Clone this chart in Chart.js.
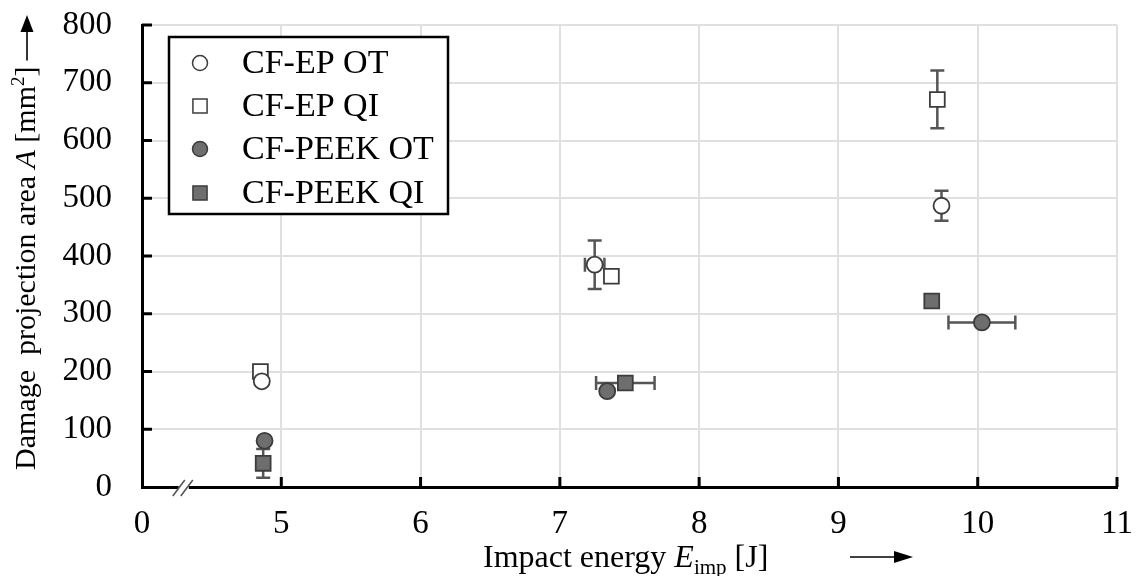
<!DOCTYPE html>
<html>
<head>
<meta charset="utf-8">
<script src="https://cdn.jsdelivr.net/npm/chart.js@4.4.1/dist/chart.umd.min.js"></script>
<style>
  html, body { margin: 0; padding: 0; background: #fff; }
  canvas { display: block; }
</style>
</head>
<body>
<canvas id="chart" width="1139" height="576"></canvas>
<script>
// Damage projection area vs. impact energy for four laminates (mean ± scatter)
const seriesLabels = ['CF-EP OT', 'CF-EP QI', 'CF-PEEK OT', 'CF-PEEK QI'];

const energyEpOt    = [4.86, 7.25, 9.74];
const areaEpOt      = [183, 385, 487];
const energyErrEpOt = [0, 0.07, 0];
const areaErrEpOt   = [0, 42, 26];

const energyEpQi    = [4.85, 7.37, 9.71];
const areaEpQi      = [200, 365, 671];
const energyErrEpQi = [0, 0, 0];
const areaErrEpQi   = [0, 0, 50];

const energyPeekOt    = [4.88, 7.34, 10.03];
const areaPeekOt      = [80, 166, 285];
const energyErrPeekOt = [0, 0, 0.24];
const areaErrPeekOt   = [0, 0, 0];

const energyPeekQi    = [4.87, 7.47, 9.67];
const areaPeekQi      = [41, 180, 322];
const energyErrPeekQi = [0, 0.21, 0];
const areaErrPeekQi   = [25, 0, 6];

// x axis is broken between 0 and 5: the first tick stands for the origin
const xTickValues = [4, 5, 6, 7, 8, 9, 10, 11];
const xTickLabels = ['0', '5', '6', '7', '8', '9', '10', '11'];
const yTickValues = [0, 100, 200, 300, 400, 500, 600, 700, 800];
const axisBreakAt = 4.3;

const SERIF = "'Liberation Serif', 'Times New Roman', serif";
const OPEN_FILL = '#ffffff';
const SOLID_FILL = '#6e6e6e';
const EDGE = '#3c3c3c';
const ERR_COLOR = '#555555';

function pts(xs, ys) { return xs.map((x, i) => ({ x: x, y: ys[i] })); }

function makeSet(label, xs, ys, ex, ey, style, fill, radius) {
  return {
    label: label,
    data: pts(xs, ys),
    errX: ex,
    errY: ey,
    pointStyle: style,
    pointRadius: radius,
    pointHoverRadius: radius,
    pointBackgroundColor: fill,
    pointBorderColor: EDGE,
    pointBorderWidth: 1.8,
    showLine: false
  };
}

const datasets = [
  makeSet(seriesLabels[0], energyEpOt, areaEpOt, energyErrEpOt, areaErrEpOt, 'circle', OPEN_FILL, 8),
  makeSet(seriesLabels[1], energyEpQi, areaEpQi, energyErrEpQi, areaErrEpQi, 'rect', OPEN_FILL, 10.5),
  makeSet(seriesLabels[2], energyPeekOt, areaPeekOt, energyErrPeekOt, areaErrPeekOt, 'circle', SOLID_FILL, 8),
  makeSet(seriesLabels[3], energyPeekQi, areaPeekQi, energyErrPeekQi, areaErrPeekQi, 'rect', SOLID_FILL, 10.5)
];

// error bars with caps, drawn beneath the markers
const errorBars = {
  id: 'errorBars',
  beforeDatasetsDraw(chart) {
    const ctx = chart.ctx, xs = chart.scales.x, ys = chart.scales.y;
    const cap = 7;
    ctx.save();
    ctx.strokeStyle = ERR_COLOR;
    ctx.lineWidth = 2.5;
    chart.data.datasets.forEach(ds => {
      ds.data.forEach((p, i) => {
        const px = xs.getPixelForValue(p.x), py = ys.getPixelForValue(p.y);
        const ex = ds.errX[i], ey = ds.errY[i];
        ctx.beginPath();
        if (ey > 0) {
          const t = ys.getPixelForValue(p.y + ey), b = ys.getPixelForValue(p.y - ey);
          ctx.moveTo(px, t); ctx.lineTo(px, b);
          ctx.moveTo(px - cap, t); ctx.lineTo(px + cap, t);
          ctx.moveTo(px - cap, b); ctx.lineTo(px + cap, b);
        }
        if (ex > 0) {
          const l = xs.getPixelForValue(p.x - ex), r = xs.getPixelForValue(p.x + ex);
          ctx.moveTo(l, py); ctx.lineTo(r, py);
          ctx.moveTo(l, py - cap); ctx.lineTo(l, py + cap);
          ctx.moveTo(r, py - cap); ctx.lineTo(r, py + cap);
        }
        ctx.stroke();
      });
    });
    ctx.restore();
  }
};

function drawRuns(ctx, runs, x, y) {
  runs.forEach(r => {
    ctx.font = r.font;
    ctx.fillText(r.text, x, y + (r.dy || 0));
    x += ctx.measureText(r.text).width;
  });
  return x;
}

// inner tick marks, axis break, axis titles and the boxed legend
const decorations = {
  id: 'decorations',
  afterDraw(chart) {
    const ctx = chart.ctx, xs = chart.scales.x, ys = chart.scales.y;
    const area = chart.chartArea;
    ctx.save();

    // ticks pointing into the plot
    ctx.strokeStyle = '#000';
    ctx.lineWidth = 3;
    ctx.beginPath();
    xTickValues.slice(1).forEach(v => {
      const px = xs.getPixelForValue(v);
      ctx.moveTo(px, area.bottom); ctx.lineTo(px, area.bottom - 10);
    });
    yTickValues.slice(1).forEach(v => {
      const py = ys.getPixelForValue(v);
      ctx.moveTo(area.left, py); ctx.lineTo(area.left + 10, py);
    });
    ctx.stroke();

    // axis break marks
    const bx = xs.getPixelForValue(axisBreakAt);
    ctx.fillStyle = '#fff';
    ctx.fillRect(bx - 5, area.bottom - 3, 10, 6);
    ctx.strokeStyle = '#555';
    ctx.lineWidth = 1.6;
    ctx.beginPath();
    ctx.moveTo(bx - 11, area.bottom + 9); ctx.lineTo(bx + 1, area.bottom - 7);
    ctx.moveTo(bx - 3, area.bottom + 9); ctx.lineTo(bx + 9, area.bottom - 7);
    ctx.stroke();

    ctx.fillStyle = '#000';
    ctx.strokeStyle = '#000';
    ctx.textBaseline = 'alphabetic';
    ctx.textAlign = 'left';

    // x title with arrow
    const fx = '32px ' + SERIF, fxi = 'italic 32px ' + SERIF, fxs = '21px ' + SERIF;
    drawRuns(ctx, [
      { text: 'Impact energy ', font: fx },
      { text: 'E', font: fxi },
      { text: 'imp', font: fxs, dy: 7 },
      { text: ' [J]', font: fx }
    ], 483, 567);
    ctx.lineWidth = 1.6;
    ctx.beginPath(); ctx.moveTo(850, 557); ctx.lineTo(896, 557); ctx.stroke();
    ctx.beginPath(); ctx.moveTo(894, 551); ctx.lineTo(913, 557); ctx.lineTo(894, 563); ctx.closePath(); ctx.fill();

    // y title with arrow, rotated
    ctx.save();
    ctx.translate(35, 470);
    ctx.rotate(-Math.PI / 2);
    const fy = '30px ' + SERIF, fyi = 'italic 30px ' + SERIF, fys = '19px ' + SERIF;
    const end = drawRuns(ctx, [
      { text: 'Damage  projection area ', font: fy },
      { text: 'A', font: fyi },
      { text: ' [mm', font: fy },
      { text: '2', font: fys, dy: -11 },
      { text: ']', font: fy }
    ], 0, 0);
    const tip = 470 - 15;
    ctx.lineWidth = 1.6;
    ctx.beginPath(); ctx.moveTo(end + 6, -8); ctx.lineTo(tip - 14, -8); ctx.stroke();
    ctx.beginPath(); ctx.moveTo(tip - 17, -14.5); ctx.lineTo(tip, -8); ctx.lineTo(tip - 17, -1.5); ctx.closePath(); ctx.fill();
    ctx.restore();

    // legend box
    const lx = 169, ly = 37, lw = 279, lh = 177;
    ctx.fillStyle = '#fff';
    ctx.fillRect(lx, ly, lw, lh);
    ctx.strokeStyle = '#000';
    ctx.lineWidth = 2.5;
    ctx.strokeRect(lx, ly, lw, lh);
    const rows = [63, 106, 149, 193];
    chart.data.datasets.forEach((ds, i) => {
      ctx.fillStyle = ds.pointBackgroundColor;
      ctx.strokeStyle = ds.pointBorderColor;
      ctx.lineWidth = 1.5;
      Chart.helpers.drawPoint(ctx, {
        pointStyle: ds.pointStyle,
        radius: ds.pointStyle === 'rect' ? 10 : 7.5,
        rotation: 0,
        borderWidth: 1.5
      }, 200, rows[i]);
      ctx.fillStyle = '#000';
      ctx.font = '34px ' + SERIF;
      ctx.textBaseline = 'middle';
      ctx.fillText(ds.label, 242, rows[i] + 1);
    });
    ctx.restore();
  }
};

new Chart(document.getElementById('chart'), {
  type: 'scatter',
  data: { datasets: datasets },
  options: {
    responsive: false,
    animation: false,
    devicePixelRatio: 1,
    layout: { padding: { top: 25, right: 22, left: 0, bottom: 0 } },
    plugins: { legend: { display: false }, tooltip: { enabled: false } },
    scales: {
      x: {
        type: 'linear',
        min: 4,
        max: 11,
        afterFit(s) { s.height = 89; s.paddingLeft = 0; s.paddingRight = 0; },
        afterBuildTicks(s) { s.ticks = xTickValues.map(v => ({ value: v })); },
        ticks: {
          autoSkip: false,
          maxRotation: 0,
          padding: 18,
          color: '#000',
          font: { family: SERIF, size: 33 },
          callback: v => xTickLabels[xTickValues.indexOf(v)]
        },
        grid: { color: '#e0e0e0', lineWidth: 2, drawTicks: false },
        border: { display: true, color: '#000', width: 3 }
      },
      y: {
        min: 0,
        max: 800,
        afterFit(s) { s.width = 142; s.paddingTop = 0; s.paddingBottom = 0; },
        afterBuildTicks(s) { s.ticks = yTickValues.map(v => ({ value: v })); },
        ticks: {
          autoSkip: false,
          padding: 30,
          color: '#000',
          font: { family: SERIF, size: 33 },
          callback: v => String(v)
        },
        grid: { color: '#e0e0e0', lineWidth: 2, drawTicks: false },
        border: { display: true, color: '#000', width: 3 }
      }
    }
  },
  plugins: [errorBars, decorations]
});
</script>
</body>
</html>
